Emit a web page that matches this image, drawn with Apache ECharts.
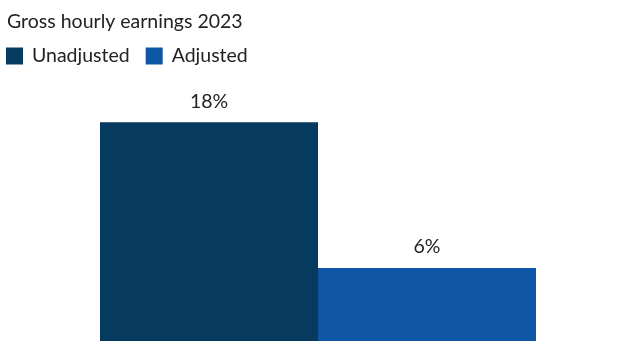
<!DOCTYPE html>
<html>
<head>
<meta charset="utf-8">
<script src="https://cdn.jsdelivr.net/npm/echarts@6/dist/echarts.min.js"></script>
<style>
  html, body { margin: 0; padding: 0; background: #fff; }
  #chart { width: 626px; height: 341px; }
</style>
</head>
<body>
<div id="chart"></div>
<script>
// Gender pay gap, gross hourly earnings 2023 (percent)
const categories = ['2023'];
const seriesNames = ['Unadjusted', 'Adjusted'];
const unadjusted = [18];
const adjusted = [6];
const colors = ['#063a5e', '#0e56a3'];

const chart = echarts.init(document.getElementById('chart'), null, { renderer: 'canvas' });
const font = 'Lato, "DejaVu Sans", sans-serif';
const fs = 19.5;

chart.setOption({
  animation: false,
  backgroundColor: '#ffffff',
  title: {
    text: 'Gross hourly earnings 2023',
    left: 2,
    top: 7,
    textStyle: { fontFamily: font, fontSize: fs, fontWeight: 'normal', color: '#222' }
  },
  legend: {
    left: 6,
    top: 46,
    icon: 'rect',
    itemWidth: 17,
    itemHeight: 17,
    itemGap: 16,
    padding: 0,
    textStyle: { fontFamily: font, fontSize: fs, color: '#222', padding: [0, 0, 0, 4] },
    data: seriesNames
  },
  grid: { left: 100, right: 90, top: 98, bottom: 0, containLabel: false },
  xAxis: {
    type: 'category',
    data: categories,
    show: false
  },
  yAxis: {
    type: 'value',
    min: 0,
    max: 20,
    show: false
  },
  series: [
    {
      name: seriesNames[0],
      type: 'bar',
      data: unadjusted,
      itemStyle: { color: colors[0] },
      barGap: '0%',
      barCategoryGap: '0%',
      label: {
        show: true, position: 'top', distance: 11,
        formatter: p => p.value + '%',
        fontFamily: font, fontSize: fs, color: '#222'
      }
    },
    {
      name: seriesNames[1],
      type: 'bar',
      data: adjusted,
      itemStyle: { color: colors[1] },
      barGap: '0%',
      barCategoryGap: '0%',
      label: {
        show: true, position: 'top', distance: 11,
        formatter: p => p.value + '%',
        fontFamily: font, fontSize: fs, color: '#222'
      }
    }
  ]
});
</script>
</body>
</html>
